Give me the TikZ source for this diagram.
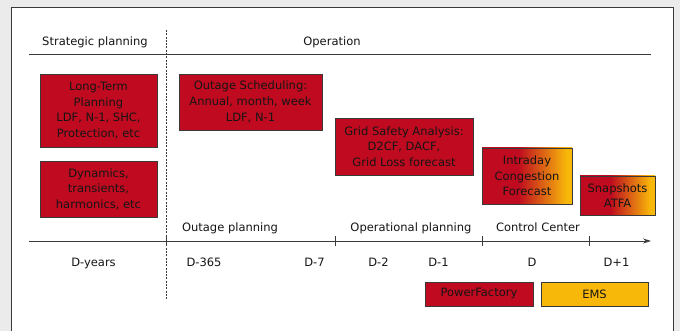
\documentclass[tikz,border=0pt]{standalone}
\usepackage{fontspec}
\setmainfont{DejaVu Sans}
\usetikzlibrary{arrows.meta}
\definecolor{bgrey}{HTML}{EBEBEB}
\definecolor{boxred}{HTML}{BF0A1F}
\definecolor{boxyellow}{HTML}{F8B80A}
\definecolor{edgegrey}{HTML}{3A3A3A}
\definecolor{txt}{HTML}{151515}
\pgfdeclarehorizontalshading{redyellow}{100bp}{color(0bp)=(boxred); color(25bp)=(boxred); color(45bp)=(boxred); color(72bp)=(boxyellow); color(100bp)=(boxyellow)}
\begin{document}
\begin{tikzpicture}[x=1pt,y=-1pt,
  font=\fontsize{11.5}{15.7}\selectfont, text=txt,
  redbox/.style={draw=edgegrey, line width=0.8pt, fill=boxred, inner sep=0pt, align=center},
  gradbox/.style={draw=edgegrey, line width=0.8pt, shading=redyellow, inner sep=0pt, align=center},
  yelbox/.style={draw=edgegrey, line width=0.8pt, fill=boxyellow, inner sep=0pt, align=center},
  lbl/.style={inner sep=0pt, anchor=base}]
\useasboundingbox (0,0) rectangle (680,331);
\fill[bgrey] (0,0) rectangle (680,331);
\filldraw[fill=white, draw=edgegrey, line width=0.8pt] (11,7) -- (11,335) -- (673,335) -- (673,7) -- cycle;

% header
\coordinate (hl) at (29,54);
\coordinate (hr) at (651,54);
\draw[edgegrey, line width=0.8pt] (hl) -- (hr);
\node[lbl] (strat) at (95,46) {Strategic planning};
\node[lbl] (oper) at (332,46) {Operation};

% dashed separator
\coordinate (dtop) at (166,30);
\coordinate (dbot) at (166,300);
\draw[edgegrey, line width=0.9pt, dash pattern=on 2pt off 1.3pt] (dtop) -- (dbot);

% boxes
\node[redbox, minimum width=117pt, minimum height=73pt] (ltp) at (98.5,110.5) {Long-Term\\Planning\\LDF, N-1, SHC,\\Protection, etc};
\node[redbox, minimum width=117pt, minimum height=56pt] (dyn) at (98.5,189) {Dynamics,\\transients,\\harmonics, etc};
\node[redbox, minimum width=143pt, minimum height=56pt] (outs) at (250.5,102) {Outage Scheduling:\\Annual, month, week\\LDF, N-1};
\node[redbox, minimum width=138pt, minimum height=57pt] (gsa) at (404,146.5) {Grid Safety Analysis:\\D2CF, DACF,\\Grid Loss forecast};
\node[gradbox, minimum width=90pt, minimum height=56pt] (icf) at (527,176) {Intraday\\Congestion\\Forecast};
\node[gradbox, minimum width=75pt, minimum height=39pt] (snap) at (617.5,195.5) {Snapshots\\ATFA};

% axis
\coordinate (al) at (29,241);
\coordinate (ar) at (651,241);
\draw[edgegrey, line width=0.8pt, -{Stealth[length=8pt,width=5pt]}] (al) -- (ar);
\foreach \x/\n in {166/t1,335/t2,482/t3,589/t4}{
  \coordinate (\n a) at (\x,236);
  \coordinate (\n b) at (\x,246);
  \draw[edgegrey, line width=0.8pt] (\n a) -- (\n b);
}

% phase labels
\node[lbl] (op1) at (230,232) {Outage planning};
\node[lbl] (op2) at (411,232) {Operational planning};
\node[lbl] (op3) at (538,232) {Control Center};

% day labels
\node[lbl] (dy) at (93.5,266) {D-years};
\node[lbl] (d365) at (204,266) {D-365};
\node[lbl] (d7) at (314.5,266) {D-7};
\node[lbl] (d2) at (378.5,266) {D-2};
\node[lbl] (d1) at (438.5,266) {D-1};
\node[lbl] (d0) at (532,266) {D};
\node[lbl] (dp1) at (616.5,266) {D+1};

% legend
\node[redbox, minimum width=108pt, minimum height=24pt] (pf) at (479,294) {PowerFactory};
\node[yelbox, minimum width=107pt, minimum height=24pt] (ems) at (594.5,294) {EMS};
\end{tikzpicture}
\end{document}
